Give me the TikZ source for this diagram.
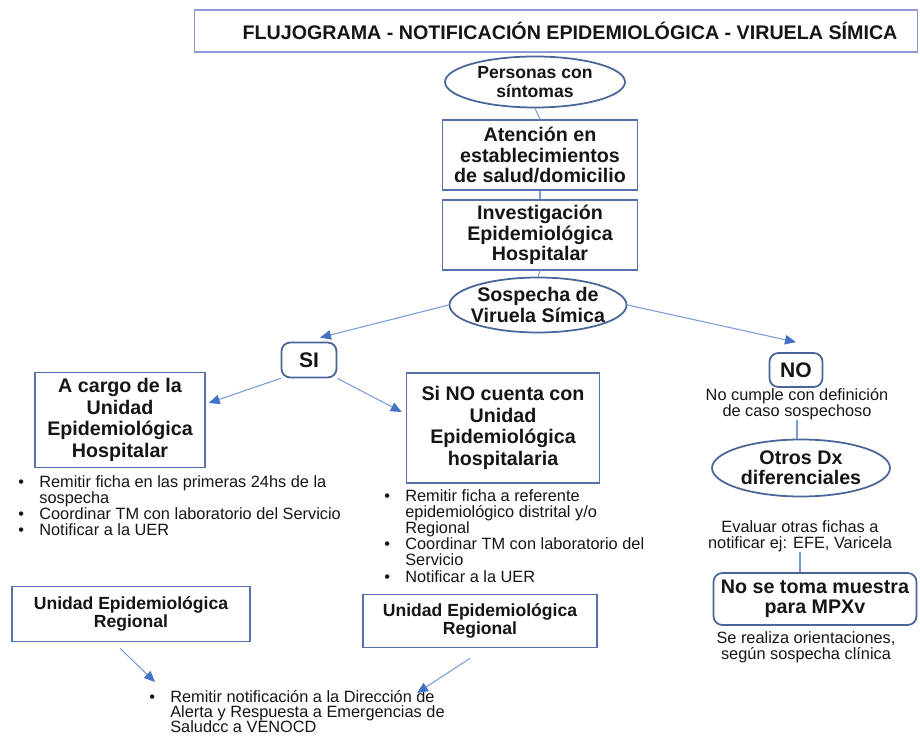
\documentclass[tikz,border=0pt]{standalone}
\usepackage{fontspec}
\setmainfont{Liberation Sans}
\usetikzlibrary{arrows.meta, positioning, calc, shapes.geometric}
\definecolor{frame}{HTML}{5572AC}
\definecolor{ttlframe}{HTML}{8C9BD6}
\definecolor{ovline}{HTML}{4A6597}
\definecolor{arrline}{HTML}{7A9BD6}
\definecolor{arrtip}{HTML}{4472C4}
\definecolor{ink}{HTML}{151515}

\newcommand{\bigbold}{\fontsize{11.2}{11.6}\selectfont\bfseries}
\newcommand{\midbold}{\fontsize{10}{10.6}\selectfont\bfseries}
\newcommand{\smalltxt}{\fontsize{9.3}{9.2}\selectfont}
\newcommand{\bl}{\makebox[0.42cm][l]{•}}
\newcommand{\hg}{\hspace*{0.42cm}}

\begin{document}
\begin{tikzpicture}[
  x=0.02cm, y=-0.02cm,
  >={Triangle[length=2.2mm, width=1.9mm, color=arrtip]},
  box/.style={draw=frame, line width=0.9pt, fill=white, align=center,
    font=\bigbold, text=ink, inner sep=2pt},
  oval/.style={ellipse, draw=ovline, line width=1pt, fill=white, align=center,
    font=\bigbold, text=ink, inner sep=-3pt},
  rbox/.style={box, draw=ovline, line width=1pt, rounded corners=5pt},
  arr/.style={->, line width=0.6pt, arrline},
  link/.style={line width=0.6pt, arrline},
  note/.style={align=center, font=\smalltxt, text=ink, inner sep=0pt},
  bullets/.style={anchor=north west, align=left, font=\smalltxt, text=ink,
    inner sep=0pt},
]

\useasboundingbox (0,0) rectangle (920,736);

% Title
\node[box, draw=ttlframe, minimum width=14.46cm, minimum height=0.84cm]
  (titlebox) at (556,31) {};
\node[font=\bigbold, text=ink] (title) at (570,31)
  {FLUJOGRAMA - NOTIFICACIÓN EPIDEMIOLÓGICA - VIRUELA SÍMICA};

% =============================================
% Central column
% =============================================
\node[oval, font=\midbold, minimum width=3.6cm, minimum height=1.02cm]
  (pers) at (535,82) {Personas con\\síntomas};

\node[box, minimum width=3.9cm, minimum height=1.4cm] (aten) at (540,155)
  {Atención en\\establecimientos\\de salud/domicilio};

\node[box, minimum width=3.9cm, minimum height=1.4cm] (inv) at (540,235)
  {Investigación\\Epidemiológica\\Hospitalar};

\node[oval, minimum width=3.54cm, minimum height=1.1cm] (sosp) at (538,305)
  {Sospecha de\\Viruela Símica};

\draw[link] (pers.south) -- (aten.north);
\draw[link] (aten.south) -- (inv.north);
\draw[link] (inv.south) -- (sosp.north);

% =============================================
% SI branch
% =============================================
\node[rbox, font=\fontsize{12}{12}\selectfont\bfseries,
  minimum width=1.1cm, minimum height=0.7cm] (si) at (309,360) {SI};

\node[box, font=\fontsize{11.2}{12.2}\selectfont\bfseries,
  minimum width=3.4cm, minimum height=1.9cm] (acargo) at (120,420)
  {A cargo de la\\Unidad\\Epidemiológica\\Hospitalar};

\node[box, font=\fontsize{11.2}{12.2}\selectfont\bfseries,
  minimum width=3.86cm, minimum height=2.2cm] (sincuenta) at (503,428)
  {Si NO cuenta con\\Unidad\\Epidemiológica\\hospitalaria};

\draw[arr] (sosp.west) -- ([xshift=0.22cm, yshift=0.08cm]si.north);
\draw[arr] (si.south west) -- ([xshift=0.06cm, yshift=0.34cm]acargo.east);
\draw[arr] (si.south east) -- ([xshift=-0.08cm, yshift=0.32cm]sincuenta.west);

\node[bullets] (tareasA) at (18,475)
  {\bl Remitir ficha en las primeras 24hs de la\\
   \hg sospecha\\
   \bl Coordinar TM con laboratorio del Servicio\\
   \bl Notificar a la UER};

\node[bullets] (tareasB) at (384,489)
  {\bl Remitir ficha a referente\\
   \hg epidemiológico distrital y/o\\
   \hg Regional\\
   \bl Coordinar TM con laboratorio del\\
   \hg Servicio\\
   \bl Notificar a la UER};

% =============================================
% Regional units
% =============================================
\node[box, font=\midbold, minimum width=4.76cm, minimum height=1.1cm]
  (uerA) at (131,614) {Unidad Epidemiológica\\Regional};
\node[box, font=\midbold, minimum width=4.68cm, minimum height=1.06cm]
  (uerB) at (480,621) {Unidad Epidemiológica\\Regional};

\node[bullets, font=\fontsize{9.3}{8.7}\selectfont] (notif) at (149,690)
  {\bl Remitir notificación a la Dirección de\\
   \hg Alerta y Respuesta a Emergencias de\\
   \hg Saludcc a VENOCD};

\coordinate (notifL) at (155,682);
\coordinate (notifR) at (417,693);
\draw[arr] ($(uerA.south)+(-11,6)$) -- (notifL);
\draw[arr] ($(uerB.south)+(-10,10)$) -- (notifR);

% =============================================
% NO branch
% =============================================
\node[rbox, font=\fontsize{12}{12}\selectfont\bfseries,
  minimum width=1.06cm, minimum height=0.68cm] (no) at (796,370) {NO};

\draw[arr] (sosp.east) -- ([yshift=0.2cm]no.north);

\node[note] (nocumple) at (797,404)
  {No cumple con definición\\de caso sospechoso};

\node[oval, minimum width=3.56cm, minimum height=1.14cm] (otros) at (801,468)
  {Otros Dx\\diferenciales};

\draw[link] (nocumple.south) -- (nocumple.south |- otros.north);

\node[note] (evaluar) at (800,536)
  {Evaluar otras fichas a\\notificar ej: EFE, Varicela};

\node[rbox, minimum width=4.06cm, minimum height=1.04cm] (muestra)
  at (815,599) {No se toma muestra\\para MPXv};

\draw[link] (evaluar.south) -- (evaluar.south |- muestra.north);

\node[note] (orienta) at (806,647)
  {Se realiza orientaciones,\\según sospecha clínica};

\end{tikzpicture}
\end{document}
